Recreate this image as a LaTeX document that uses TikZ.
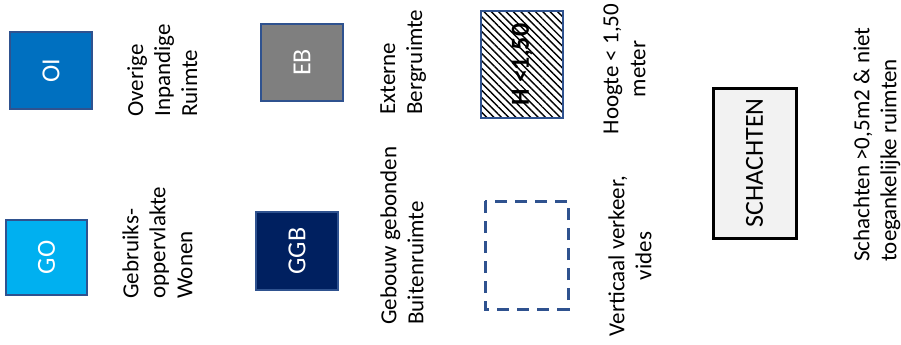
\documentclass[tikz,border=0pt]{standalone}
\usepackage{fontspec}
\setmainfont{Carlito}
\usetikzlibrary{patterns.meta,backgrounds}

\definecolor{oiblue}{HTML}{0070C0}
\definecolor{gocyan}{HTML}{00B0F0}
\definecolor{ebgray}{HTML}{7F7F7F}
\definecolor{ggbnavy}{HTML}{002060}
\definecolor{edgeblue}{HTML}{2F528F}
\definecolor{shaftgray}{HTML}{F2F2F2}

\begin{document}
\begin{tikzpicture}[
    x=0.5pt,
    y=-0.5pt,
    swatch/.style={
        draw=edgeblue,
        line width=0.75pt,
        rotate=90,
        align=center,
        text=white,
        inner sep=0pt,
        font=\fontsize{13}{15}\selectfont
    },
    legendtext/.style={
        rotate=90,
        inner sep=0pt,
        align=left,
        anchor=north west,
        font=\fontsize{11.5}{13.5}\selectfont
    },
    centertext/.style={
        rotate=90,
        inner sep=0pt,
        align=center,
        anchor=north,
        font=\fontsize{11.5}{13.5}\selectfont
    }
]
\useasboundingbox (0,0) rectangle (901,344);

\node[swatch, fill=oiblue, minimum width=38.5pt, minimum height=41pt] (oi) at (51,70.5) {OI};
\node[swatch, fill=gocyan, minimum width=37.5pt, minimum height=40.5pt] (go) at (46.5,257.5) {GO};
\node[swatch, fill=ebgray, minimum width=38.5pt, minimum height=41pt] (eb) at (302,62.5) {EB};
\node[swatch, fill=ggbnavy, minimum width=39pt, minimum height=41pt] (ggb) at (297,251) {GGB};
\node[swatch, text=black, font=\fontsize{13}{15}\selectfont\bfseries,
    minimum width=53.5pt, minimum height=41pt] (hlow) at (522,64.5) {H <1,50};
\node[swatch, draw=edgeblue, line width=1.5pt, dash pattern=on 6pt off 4pt,
    minimum width=54pt, minimum height=41.5pt] (vides) at (526.5,255) {};
\node[swatch, draw=black, line width=1.5pt, fill=shaftgray, text=black,
    minimum width=75pt, minimum height=41.5pt] (shafts) at (754.5,163) {SCHACHTEN};

% hatching behind the low-height swatch
\begin{scope}[on background layer]
    \fill[white] (hlow.south west) rectangle (hlow.north east);
    \fill[pattern={Lines[angle=-45, distance=2.6pt, line width=0.7pt]}]
        (hlow.south west) rectangle (hlow.north east);
\end{scope}

\node[legendtext] (oitext) at (127,117) {Overige\\Inpandige\\Ruimte};
\node[legendtext] (gotext) at (122,299) {Gebruiks-\\oppervlakte\\Wonen};
\node[legendtext] (ebtext) at (380,115) {Externe\\Bergruimte};
\node[legendtext] (ggbtext) at (380,325) {Gebouw gebonden\\Buitenruimte};
\node[centertext] (hlowtext) at (603,69) {Hoogte < 1,50\\meter};
\node[centertext] (videstext) at (608,256) {Verticaal verkeer,\\vides};
\node[legendtext] (shaftstext) at (853,262) {Schachten >0,5m2 \& niet\\toegankelijke ruimten};

\end{tikzpicture}
\end{document}
